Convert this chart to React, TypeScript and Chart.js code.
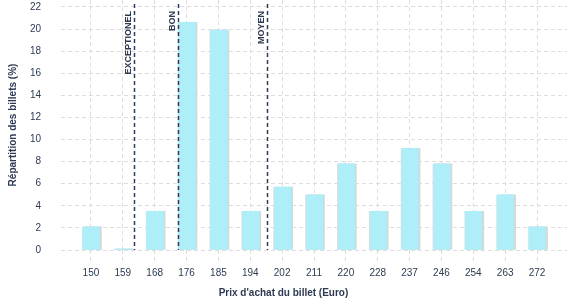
import React, { useEffect, useRef } from "react";
import { Chart, registerables } from "chart.js";

Chart.register(...registerables);

const priceLabels = ["150", "159", "168", "176", "185", "194", "202", "211", "220", "228", "237", "246", "254", "263", "272"];
const shareValues = [2.1, 0.1, 3.5, 20.6, 19.9, 3.5, 5.7, 5.0, 7.8, 3.5, 9.2, 7.8, 3.5, 5.0, 2.1];
const yTickValues = [0, 2, 4, 6, 8, 10, 12, 14, 16, 18, 20, 22];
const thresholdLabels = ["EXCEPTIONEL", "BON", "MOYEN"];
// positions on the x axis, in category-index units
const thresholdPositions = [1.36, 2.74, 5.52];
const xTitle = "Prix d'achat du billet (Euro)";
const yTitle = "Répartition des billets (%)";

const FONT = "'Liberation Sans', Arial, Helvetica, sans-serif";
const TEXT = "#2e3a52";
const GRID = "#dddddd";
const LINE = "#2e3d5c";

export default function App() {
  const ref = useRef<HTMLCanvasElement | null>(null);

  useEffect(() => {
    document.body.style.margin = "0";
    const canvas = ref.current;
    if (!canvas) return;

    const shadowPlugin = {
      id: "barShadow",
      beforeDatasetsDraw(chart: any) {
        const c = chart.ctx;
        c.save();
        c.shadowColor = "#d8d8d8";
        c.shadowOffsetX = 2;
        c.shadowOffsetY = 0;
        c.shadowBlur = 0;
      },
      afterDatasetsDraw(chart: any) {
        chart.ctx.restore();
      },
    };

    const overlayPlugin = {
      id: "overlay",
      afterDraw(chart: any) {
        const c = chart.ctx;
        const xs = chart.scales.x;
        const area = chart.chartArea;
        c.save();
        thresholdPositions.forEach((p, i) => {
          const px = Math.round(xs.getPixelForValue(p)) + 0.5;
          c.beginPath();
          c.setLineDash([4, 3]);
          c.lineWidth = 1.5;
          c.strokeStyle = LINE;
          c.moveTo(px, area.top + 4);
          c.lineTo(px, area.bottom);
          c.stroke();
          c.setLineDash([]);
          c.save();
          c.translate(px - 4, area.top + 11);
          c.rotate(-Math.PI / 2);
          c.font = `bold 9px ${FONT}`;
          c.fillStyle = TEXT;
          c.textAlign = "right";
          c.textBaseline = "alphabetic";
          c.fillText(thresholdLabels[i], 0, 0);
          c.restore();
        });
        c.font = `bold 10px ${FONT}`;
        c.fillStyle = TEXT;
        c.textAlign = "center";
        c.textBaseline = "middle";
        c.fillText(xTitle, (chart.width - 10) / 2, 293);
        c.restore();
      },
    };

    const chart = new Chart(canvas, {
      type: "bar",
      data: {
        datasets: [
          {
            data: shareValues.map((v, i) => ({ x: i, y: v })),
            backgroundColor: "#aeeef8",
            borderWidth: 0,
            barThickness: 17,
          },
        ],
      },
      options: {
        animation: false,
        responsive: false,
        maintainAspectRatio: false,
        layout: { padding: { left: 0, right: 10, top: 0, bottom: 0 } },
        plugins: {
          legend: { display: false },
          tooltip: { enabled: false },
        },
        scales: {
          x: {
            type: "linear",
            offset: false,
            min: -0.94,
            max: 14.94,
            afterBuildTicks: (s: any) => {
              s.ticks = priceLabels.map((_, i) => ({ value: i }));
            },
            afterFit: (s: any) => {
              s.height = 50;
              s.paddingLeft = 0;
              s.paddingRight = 0;
            },
            ticks: {
              autoSkip: false,
              maxRotation: 0,
              padding: 4,
              color: TEXT,
              font: { family: FONT, size: 10 },
              callback: (v: any) => priceLabels[Math.round(Number(v))],
            },
            grid: {
              offset: false,
              color: GRID,
              tickLength: 13,
              tickColor: GRID,
              tickBorderDash: [4, 3],
            },
            border: { display: false, dash: [4, 3] },
          },
          y: {
            type: "linear",
            min: 0,
            max: 22.63,
            afterBuildTicks: (s: any) => {
              s.ticks = yTickValues.map((v) => ({ value: v }));
            },
            afterFit: (s: any) => {
              s.width = 61;
              s.paddingTop = 0;
              s.paddingBottom = 0;
            },
            ticks: {
              padding: 20,
              color: TEXT,
              font: { family: FONT, size: 10 },
            },
            grid: { color: GRID, drawTicks: false },
            border: { display: false, dash: [4, 3] },
            title: {
              display: true,
              text: yTitle,
              color: TEXT,
              font: { family: FONT, size: 10, weight: "bold" },
              padding: { top: 7, bottom: 0 },
            },
          },
        },
      } as any,
      plugins: [shadowPlugin, overlayPlugin],
    });

    return () => chart.destroy();
  }, []);

  return (
    <div style={{ position: "absolute", left: 0, top: 0, width: 577, height: 300 }}>
      <canvas ref={ref} width={577} height={300} />
    </div>
  );
}
